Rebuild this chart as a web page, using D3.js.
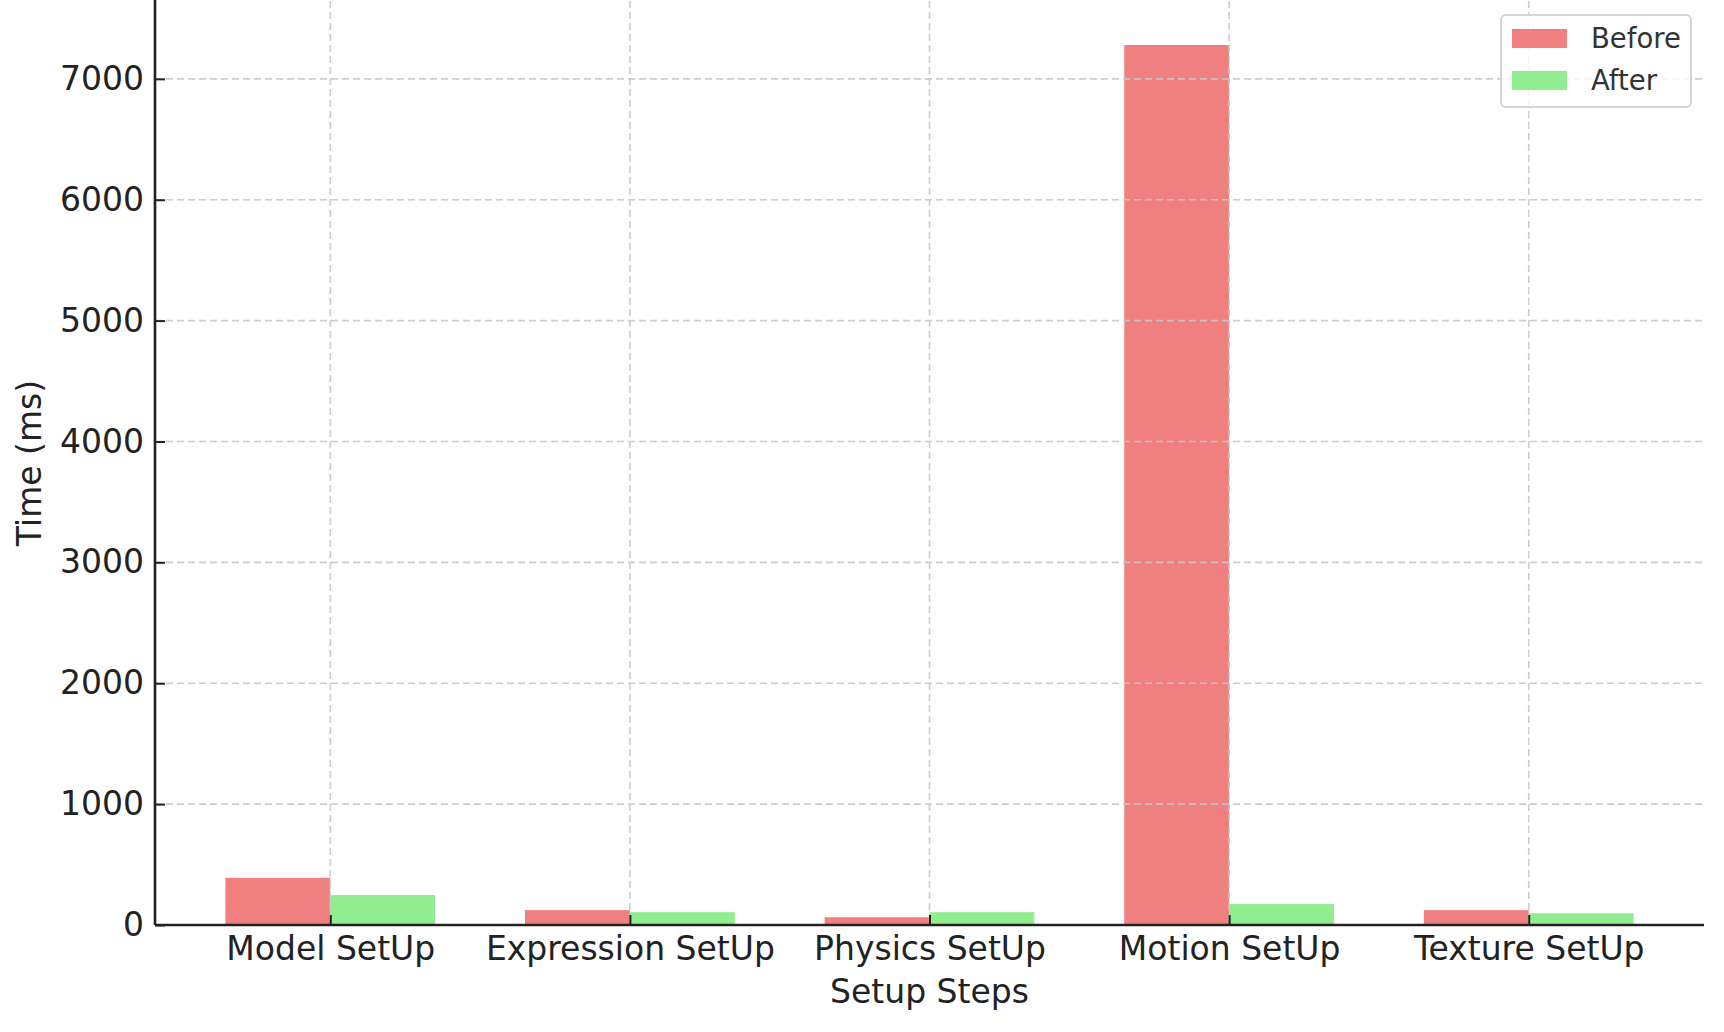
<!DOCTYPE html>
<html>
<head>
<meta charset="utf-8">
<script src="https://cdn.jsdelivr.net/npm/d3@7"></script>
<style>
  html, body { margin: 0; padding: 0; background: #fff; }
  svg { display: block; font-family: "DejaVu Sans", sans-serif; }
</style>
</head>
<body>
<svg id="chart" width="1724" height="1032"></svg>
<script>
const categories = ["Model SetUp", "Expression SetUp", "Physics SetUp", "Motion SetUp", "Texture SetUp"];
const beforeValues = [390, 123, 64, 7280, 123];
const afterValues = [248, 106, 106, 173, 97];
const yTicks = [0, 1000, 2000, 3000, 4000, 5000, 6000, 7000];
const seriesNames = ["Before", "After"];
const seriesColors = ["#F08080", "#90EE90"];

const W = 1724, H = 1032;
const plot = { left: 155, right: 1704, top: 1, bottom: 925 };
const barW = 0.35;
const n = categories.length;
const xPad = (n - 1 + 2 * barW) * 0.05;
const x = d3.scaleLinear().domain([-barW - xPad, n - 1 + barW + xPad]).range([plot.left, plot.right]);
const yMax = d3.max(beforeValues.concat(afterValues)) * 1.05;
const y = d3.scaleLinear().domain([0, yMax]).range([plot.bottom, plot.top]);

const svg = d3.select("#chart");

// bars
const series = [beforeValues, afterValues];
series.forEach((vals, s) => {
  svg.append("g").selectAll("rect").data(vals).join("rect")
    .attr("x", (d, i) => x(s === 0 ? i - barW : i))
    .attr("width", (d, i) => x(i + barW) - x(i))
    .attr("y", d => y(d))
    .attr("height", d => y(0) - y(d))
    .attr("fill", seriesColors[s]);
});

// grid (drawn over bars)
const grid = svg.append("g").attr("stroke", "#c8c8c8").attr("stroke-width", 1.6)
  .attr("stroke-dasharray", "7,4").attr("opacity", 0.9);
grid.selectAll("line.h").data(yTicks.filter(t => t > 0)).join("line").attr("class", "h")
  .attr("x1", plot.left).attr("x2", plot.right)
  .attr("y1", d => y(d)).attr("y2", d => y(d));
grid.selectAll("line.v").data(d3.range(n)).join("line").attr("class", "v")
  .attr("x1", d => x(d)).attr("x2", d => x(d))
  .attr("y1", plot.top).attr("y2", plot.bottom);

// axes
const xAxis = d3.axisBottom(x).tickValues(d3.range(n)).tickFormat(i => categories[i])
  .tickSizeInner(-10).tickSizeOuter(0).tickPadding(12);
const yAxis = d3.axisLeft(y).tickValues(yTicks).tickFormat(d3.format("d"))
  .tickSizeInner(-10).tickSizeOuter(0).tickPadding(11);

const gx = svg.append("g").attr("transform", `translate(0,${plot.bottom})`).call(xAxis);
const gy = svg.append("g").attr("transform", `translate(${plot.left},0)`).call(yAxis);
[gx, gy].forEach(g => {
  g.select(".domain").attr("stroke", "#222").attr("stroke-width", 2.6);
  g.selectAll(".tick line").attr("stroke", "#222").attr("stroke-width", 2);
  g.selectAll(".tick text").attr("fill", "#222").style("font-size", "33px")
    .style("font-family", "'DejaVu Sans', sans-serif");
});
gx.select(".domain").attr("d", `M${plot.left},0H${plot.right}`);
gy.select(".domain").attr("d", `M0,${plot.bottom}V0`);

// axis labels
svg.append("text").attr("x", (plot.left + plot.right) / 2).attr("y", 1003)
  .attr("text-anchor", "middle").attr("fill", "#222").style("font-size", "33px")
  .text("Setup Steps");
svg.append("text").attr("transform", `translate(41,${(plot.top + plot.bottom) / 2}) rotate(-90)`)
  .attr("text-anchor", "middle").attr("fill", "#222").style("font-size", "33px")
  .text("Time (ms)");

// legend
const lg = svg.append("g");
lg.append("rect").attr("x", 1501).attr("y", 15).attr("width", 190).attr("height", 92)
  .attr("rx", 5).attr("fill", "#fff").attr("fill-opacity", 0.8)
  .attr("stroke", "#d5d5d5").attr("stroke-width", 2);
seriesNames.forEach((name, i) => {
  lg.append("rect").attr("x", 1512).attr("y", 29 + i * 42).attr("width", 55).attr("height", 19)
    .attr("fill", seriesColors[i]);
  lg.append("text").attr("x", 1591).attr("y", 48 + i * 42).attr("fill", "#333")
    .style("font-size", "27.5px").text(name);
});
</script>
</body>
</html>
